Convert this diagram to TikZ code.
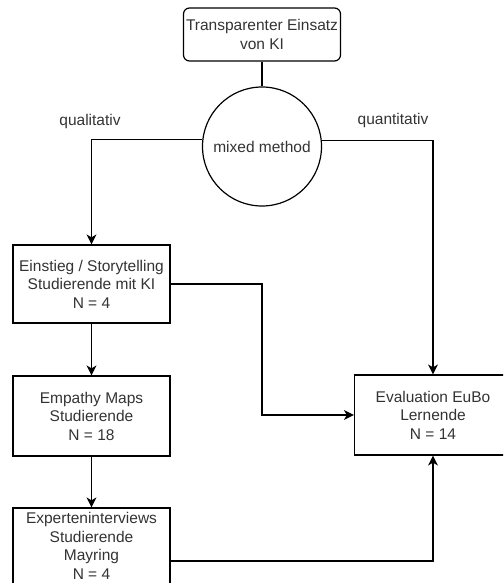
\documentclass[tikz,border=0pt]{standalone}
\usepackage{fontspec}
\setmainfont{Liberation Sans}
\usetikzlibrary{arrows.meta}
\definecolor{txt}{RGB}{51,51,51}
\begin{document}
\begin{tikzpicture}[x=1pt,y=-1pt,
  box/.style={draw=black,line width=1.2pt,minimum width=157pt,minimum height=80pt,
    align=center,text=txt,font=\fontsize{15.5}{18.5}\selectfont,inner sep=0pt},
  circ/.style={circle,draw=black,line width=1.2pt,minimum size=119pt,inner sep=0pt,
    text=txt,font=\fontsize{15.5}{18.5}\selectfont},
  lbl/.style={text=txt,font=\fontsize{15.5}{18.5}\selectfont,inner sep=0pt},
  conn/.style={draw=black,line width=1.2pt},
  arr/.style={conn,-{Stealth[length=10pt,width=10pt,inset=3pt]}}]
\clip (0,0) rectangle (503,583);
\node[box,rounded corners=6pt,minimum height=53pt] (top) at (262,34.5) {Transparenter Einsatz\\von KI};
\node[circ] (mix) at (262,146.5) {mixed method};
\node[box,minimum height=78pt] (ein) at (91.5,284) {Einstieg / Storytelling\\Studierende mit KI\\N = 4};
\node[box] (emp) at (91.5,416) {Empathy Maps\\Studierende\\N = 18};
\node[box,minimum height=76pt] (exp) at (91.5,546) {Experteninterviews\\Studierende\\Mayring\\N = 4};
\node[box] (eva) at (433,415) {Evaluation EuBo\\Lernende\\N = 14};
\node[lbl] (ql) at (90,121) {qualitativ};
\node[lbl] (qn) at (393,120) {quantitativ};
\coordinate (c1) at (262,0);
\coordinate (c2) at (0,561);
\draw[conn] (top) -- (mix);
\draw[arr] (mix.173.7) -| (ein.north);
\draw[arr] (mix.6.3) -| (eva.north);
\draw[arr] (ein) -- (emp);
\draw[arr] (emp) -- (exp);
\draw[arr] (ein.east) -- (ein.east -| c1) |- (eva.west);
\draw[arr] (exp.east |- c2) -| (eva.south);
\end{tikzpicture}
\end{document}
